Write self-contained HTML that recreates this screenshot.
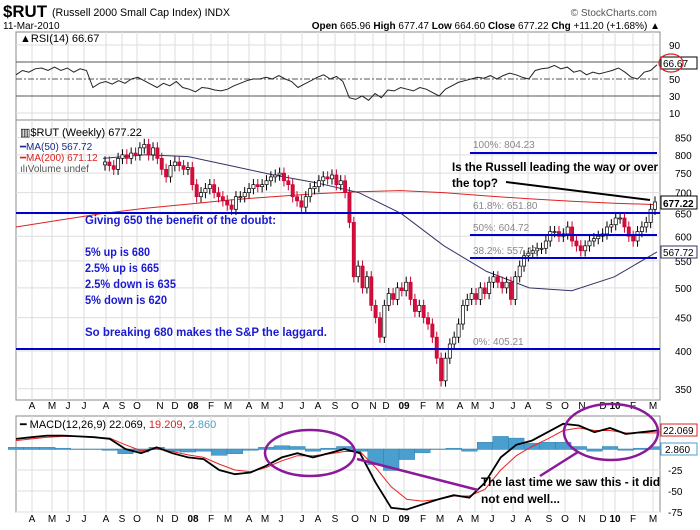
<!DOCTYPE html>
<html><head><meta charset="utf-8"><style>
body{margin:0;background:#fff;}
svg{display:block;font-family:"Liberation Sans",sans-serif;}
</style></head><body>
<svg id="c" width="700" height="530" viewBox="0 0 700 530" xmlns="http://www.w3.org/2000/svg">
<rect x="0" y="0" width="700" height="530" fill="#fff"/>
<text x="3" y="17" font-size="17" font-weight="bold" textLength="44" lengthAdjust="spacingAndGlyphs">$RUT</text>
<text x="52" y="16" font-size="11" textLength="178" lengthAdjust="spacingAndGlyphs">(Russell 2000 Small Cap Index) INDX</text>
<text x="657" y="16" font-size="10" fill="#555" text-anchor="end">© StockCharts.com</text>
<text x="3" y="29" font-size="10">11-Mar-2010</text>
<text x="660" y="29" font-size="10" text-anchor="end"><tspan font-weight="bold">Open</tspan> 665.96 <tspan font-weight="bold">High</tspan> 677.47 <tspan font-weight="bold">Low</tspan> 664.60 <tspan font-weight="bold">Close</tspan> 677.22 <tspan font-weight="bold">Chg</tspan> +11.20 (+1.68%) ▲</text>
<g id="grid"></g>
<g id="marks"></g>
<g id="ann"></g>
</svg>
<script>
const months=["A","M","J","J","A","S","O","N","D","08","F","M","A","M","J","J","A","S","O","N","D","09","F","M","A","M","J","J","A","S","O","N","D","10","F","M"];
const monthX=[32,52,68,84,106,122,137,160,175,193,211,228,249,265,281,302,318,335,355,373,386,404,423,440,460,475,492,513,528,549,565,582,603,615,633,653];
const priceTicks=[350,400,450,500,550,600,650,700,750,800,850];
const rsiTicks=[10,30,50,70,90];
const macdTicks=[-75,-50,-25];
const closes=[780,770,760,790,800,790,805,800,820,830,800,820,790,760,740,770,780,770,760,765,
720,690,700,710,720,700,690,680,670,660,690,690,700,710,720,715,720,730,740,745,750,730,720,690,680,665,690,710,715,730,740,735,745,720,730,700,
630,520,540,500,520,470,450,420,470,490,480,500,495,
510,480,460,470,450,440,420,390,360,390,410,420,440,470,480,490,480,500,490,510,520,510,500,510,480,520,540,560,565,570,575,575,590,610,610,600,605,620,590,580,570,580,590,595,600,605,620,625,
640,640,620,600,590,610,620,630,660,677.22];
const ma200=[620,635,650,662,672,682,690,697,702,705,700,692,685,679,674,671.12];
const ma50=[790,800,795,770,745,725,700,650,580,530,500,495,520,567.72];
const rsi=[55,60,58,62,63,60,64,60,63,58,62,60,40,45,47,44,48,45,50,52,48,44,40,45,42,47,40,38,35,40,39,37,36,38,42,45,48,50,50,52,50,54,50,47,40,44,48,52,55,50,53,47,28,26,30,25,33,28,37,36,40,38,36,40,38,34,30,38,42,46,48,50,52,51,54,50,54,57,55,52,50,60,62,63,66,62,64,58,60,55,58,56,58,60,63,58,52,50,58,60,66.67];
const macd=[12,14,16,16,15,14,12,0,-5,2,-5,-10,-12,-25,-30,-28,-20,-10,-5,-10,-5,0,-5,-40,-70,-72,-66,-60,-55,-58,-40,-10,5,10,20,30,28,20,25,18,20,22.07];
const signal=[10,12,14,15,15,14,13,5,-2,0,-3,-7,-10,-18,-25,-27,-22,-14,-8,-8,-6,-3,-3,-22,-45,-60,-62,-60,-56,-56,-48,-25,-8,3,12,22,25,22,22,19,19,19.21];

const NS="http://www.w3.org/2000/svg";
const L=16,R=660;
function el(tag,at,parent){const e=document.createElementNS(NS,tag);for(const k in at)e.setAttribute(k,at[k]);(parent||document.getElementById('marks')).appendChild(e);return e;}
const py=p=>351-283*Math.log(p/400);
const ry=v=>113-(v-10)*0.85;
const my=v=>449-v*21/25;
const G=document.getElementById('grid');
[[32,120],[120,400],[416,512]].forEach((p,i)=>{
 const r=el('rect',{x:L,y:p[0],width:R-L,height:p[1]-p[0],fill:'none',stroke:'#888'},G);
 
 
 monthX.forEach(x=>{const l=el('line',{x1:x,x2:x,y1:p[0],y2:p[1],stroke:'#ddd'},G);
 
 });
});
[409,522].forEach(yy=>months.forEach((m,i)=>{const t=el('text',{x:monthX[i],y:yy,'font-size':10,'text-anchor':'middle','font-weight':/\d/.test(m)?'bold':'normal'},G);t.textContent=m;
 
 }));
priceTicks.forEach(p=>{const y=py(p);const l=el('line',{x1:L,x2:R,y1:y,y2:y,stroke:'#ddd'},G);
 
 
 const t=el('text',{x:675,y:y+4,'font-size':10},G);t.textContent=p;
 
 });
rsiTicks.forEach(v=>{const y=ry(v);const l=el('line',{x1:L,x2:R,y1:y,y2:y,stroke:(v==30||v==70||v==50)?'#555':'#ddd','stroke-dasharray':v==50?'6,2,2,2':''},G);
 
 
 if(v!=70){const t=el('text',{x:669,y:y+4,'font-size':10},G);t.textContent=v;
 
 }});
macdTicks.concat([0]).forEach(v=>{const y=my(v);const l=el('line',{x1:L,x2:R,y1:y,y2:y,stroke:'#ddd'},G);
 
 
 if(v!=0){const t=el('text',{x:668,y:y+4,'font-size':10},G);t.textContent=v;
 
 }});
function linePts(arr,x0,x1,yf){const n=arr.length;return arr.map((v,i)=>(x0+(x1-x0)*i/(n-1)).toFixed(1)+','+yf(v).toFixed(1)).join(' ');}
let e=el('polyline',{points:linePts(rsi,L,657,ry),fill:'none',stroke:'#222','stroke-width':1});


e=el('polyline',{points:linePts(ma200,L,657,py),fill:'none',stroke:'#d22','stroke-width':1});


e=el('polyline',{points:linePts(ma50,103,657,py),fill:'none',stroke:'#336','stroke-width':1});


const n=closes.length,cx0=105,cx1=655;
closes.forEach((c,i)=>{const o=i?closes[i-1]:c*0.99;const x=cx0+(cx1-cx0)*i/(n-1);
 const hi=Math.max(o,c)*1.02,lo=Math.min(o,c)*0.98;const down=c<o;
 const w=el('line',{x1:x,x2:x,y1:py(hi),y2:py(lo),stroke:down?'#c03':'#000'});
 
 
 const b=el('rect',{x:x-1.6,y:py(Math.max(o,c)),width:3.2,height:Math.max(1,py(Math.min(o,c))-py(Math.max(o,c))),fill:down?'#d0103a':'#fff',stroke:down?'#c03':'#000','stroke-width':0.7});
 
 });
const m=macd.length;const bw=(657-L)/(m-1);
macd.forEach((v,i)=>{const h=v-signal[i];const x=L+bw*i;const y0=my(0),y1=my(h);
 const r=el('rect',{x:x-bw/2,y:Math.min(y0,y1),width:bw,height:Math.abs(y1-y0)+0.5,fill:'#4a9fcf',stroke:'#27a','stroke-width':0.4});
 
 });
e=el('polyline',{points:linePts(signal,L,657,my),fill:'none',stroke:'#e22','stroke-width':1});


e=el('polyline',{points:linePts(macd,L,657,my),fill:'none',stroke:'#000','stroke-width':1.8});


</script>
<script>
const A=document.getElementById('ann');
A.insertAdjacentHTML('beforeend',`<text x="20" y="42" font-size="11">▲RSI(14) 66.67</text>
<rect x="661" y="57" width="36" height="12" fill="#fff" stroke="#000"/>
<text x="663" y="67" font-size="10">66.67</text>
<ellipse cx="671" cy="63" rx="12" ry="9" fill="none" stroke="#d22" stroke-width="1.3"/>
<text x="20" y="136" font-size="11">▥$RUT (Weekly) 677.22</text>
<text x="20" y="150" font-size="10" fill="#1a2a8a">━MA(50) 567.72</text>
<text x="20" y="161" font-size="10" fill="#d22">━MA(200) 671.12</text>
<text x="20" y="172" font-size="10" fill="#555">ılıVolume undef</text>
<line x1="470" x2="657" y1="153" y2="153" stroke="#0000cc" stroke-width="2"/>
<line x1="16" x2="660" y1="213" y2="213" stroke="#0000cc" stroke-width="2"/>
<line x1="470" x2="657" y1="235" y2="235" stroke="#0000cc" stroke-width="2"/>
<line x1="470" x2="657" y1="258" y2="258" stroke="#0000cc" stroke-width="2"/>
<line x1="16" x2="660" y1="349" y2="349" stroke="#0000cc" stroke-width="2"/>
<g font-size="10" fill="#888">
<text x="473" y="148">100%: 804.23</text>
<text x="473" y="209">61.8%: 651.80</text>
<text x="473" y="231">50%: 604.72</text>
<text x="473" y="254">38.2%: 557.43</text>
<text x="473" y="345">0%: 405.21</text>
</g>
<g font-size="12" font-weight="bold" fill="#1a1ad0" lengthAdjust="spacingAndGlyphs">
<text x="85" y="224" textLength="191" lengthAdjust="spacingAndGlyphs">Giving 650 the benefit of the doubt:</text>
<text x="85" y="256" textLength="65" lengthAdjust="spacingAndGlyphs">5% up is 680</text>
<text x="85" y="272" textLength="74" lengthAdjust="spacingAndGlyphs">2.5% up is 665</text>
<text x="85" y="288" textLength="91" lengthAdjust="spacingAndGlyphs">2.5% down is 635</text>
<text x="85" y="304" textLength="82" lengthAdjust="spacingAndGlyphs">5% down is 620</text>
<text x="85" y="336" textLength="242" lengthAdjust="spacingAndGlyphs">So breaking 680 makes the S&amp;P the laggard.</text>
</g>
<g font-size="12" font-weight="bold" fill="#000">
<text x="452" y="171" textLength="206" lengthAdjust="spacingAndGlyphs">Is the Russell leading the way or over</text>
<text x="452" y="187" textLength="46" lengthAdjust="spacingAndGlyphs">the top?</text>
</g>
<line x1="506" y1="182" x2="650" y2="200" stroke="#000" stroke-width="2"/>
<rect x="661" y="196" width="36" height="13" fill="#fff" stroke="#000"/>
<text x="663" y="207" font-size="10" font-weight="bold">677.22</text>
<rect x="661" y="246" width="36" height="12" fill="#fff" stroke="#336"/>
<text x="663" y="256" font-size="10">567.72</text>
<text x="20" y="428" font-size="11">━ MACD(12,26,9) 22.069, <tspan fill="#d22">19.209</tspan>, <tspan fill="#4a9fcf">2.860</tspan></text>
<rect x="661" y="424" width="36" height="12" fill="#fff" stroke="#d22"/>
<text x="663" y="434" font-size="10">22.069</text>
<rect x="661" y="443" width="36" height="12" fill="#fff" stroke="#4a9fcf"/>
<text x="665" y="453" font-size="10">2.860</text>
<ellipse cx="310" cy="453" rx="45" ry="23" fill="none" stroke="#8a1a9a" stroke-width="2.5"/>
<ellipse cx="611" cy="432" rx="47" ry="28" fill="none" stroke="#8a1a9a" stroke-width="2.5"/>
<line x1="357" y1="459" x2="478" y2="490" stroke="#8a1a9a" stroke-width="2.5"/>
<line x1="578" y1="452" x2="540" y2="476" stroke="#8a1a9a" stroke-width="2.5"/>
<g font-size="12" font-weight="bold" fill="#000">
<text x="481" y="486" textLength="179" lengthAdjust="spacingAndGlyphs">The last time we saw this - it did</text>
<text x="481" y="503" textLength="79" lengthAdjust="spacingAndGlyphs">not end well...</text>
</g>`);
</script>
</body></html>
